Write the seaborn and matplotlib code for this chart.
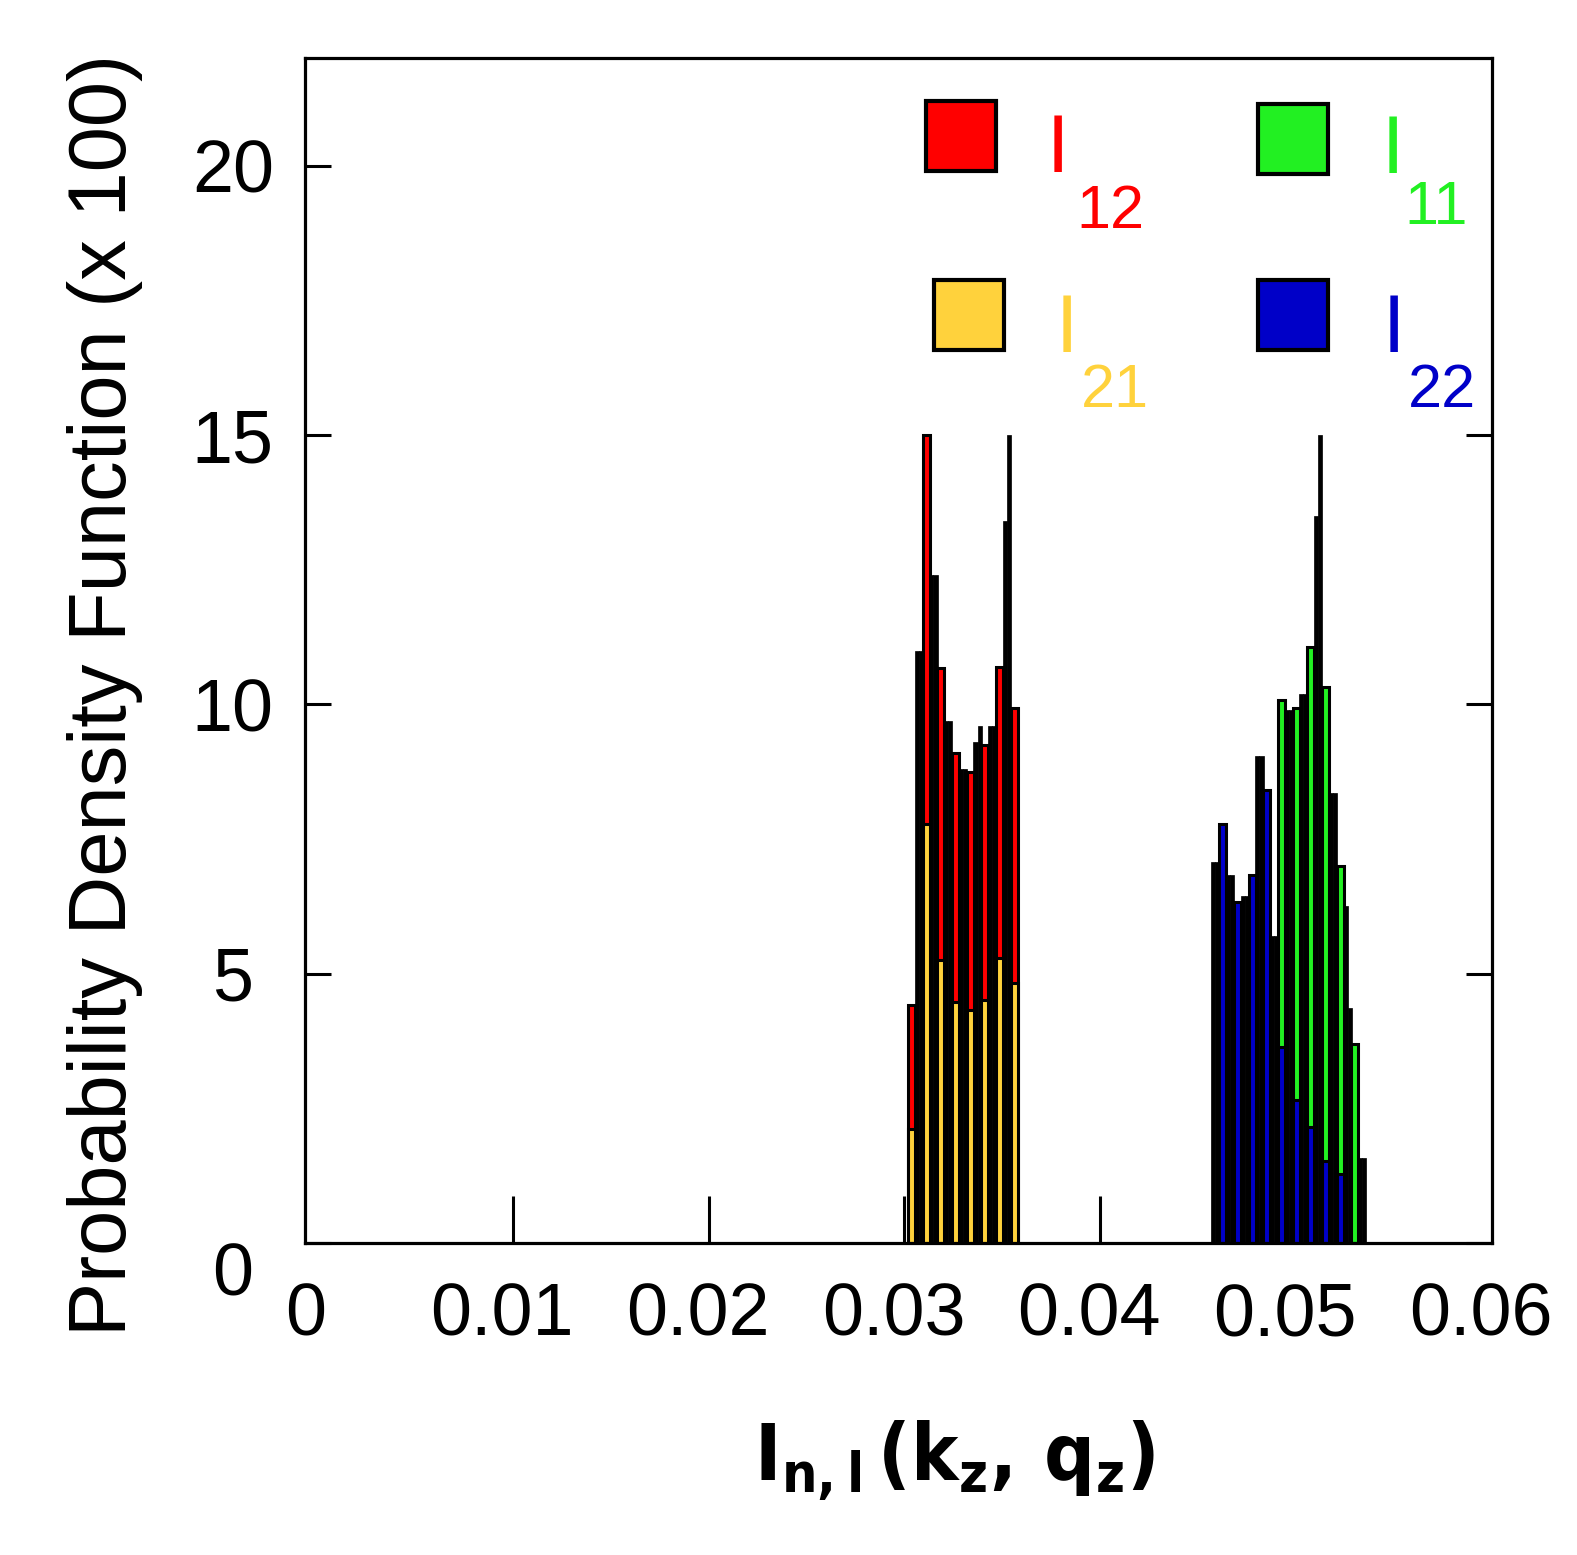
import matplotlib
matplotlib.use("Agg")
import matplotlib.pyplot as plt
from matplotlib import transforms
from matplotlib.patches import Rectangle
import pandas as pd
import seaborn as sns

# Bin centres of the two groups of bars.
left_x = [0.03036, 0.03111, 0.03186, 0.03261, 0.03336, 0.03411, 0.03486, 0.03561]
right_x = [0.04625, 0.04700, 0.04775, 0.04850, 0.04925,
           0.05000, 0.05075, 0.05150, 0.05225, 0.05300]

# Probability density (x 100) per bin.
i12 = [4.42, 15.0, 10.67, 9.10, 8.75, 9.25, 10.70, 9.93]
i21 = [2.12, 7.77, 5.26, 4.48, 4.33, 4.52, 5.30, 4.82]
i11 = [0, 0, 0, 0, 10.08, 9.93, 11.07, 10.33, 6.99, 3.69]
i22 = [7.77, 6.34, 6.84, 8.41, 3.64, 2.66, 2.16, 1.52, 1.28, 0]

# Black columns between the coloured bars (left / right half of each gap).
left_gap = [(0, 0), (11.0, 11.0), (12.4, 12.4), (9.7, 9.7), (8.8, 8.8),
            (9.3, 9.6), (9.6, 9.6), (13.4, 15.0), (0, 0)]
right_gap = [(7.08, 7.08), (6.84, 6.84), (6.45, 6.45), (9.05, 9.05), (5.7, 5.7),
             (9.9, 9.9), (10.2, 10.2), (13.5, 15.0), (8.36, 8.36),
             (6.25, 4.37), (1.57, 1.57)]

x_ticks = [0, 0.01, 0.02, 0.03, 0.04, 0.05, 0.06]
x_tick_labels = ["0", "0.01", "0.02", "0.03", "0.04", "0.05", "0.06"]
y_ticks = [0, 5, 10, 15, 20]

RED = "#ff0000"
YELLOW = "#ffd23c"
GREEN = "#22f022"
BLUE = "#0000c8"


def gap_frame(centres, gaps):
    """Positions of the black half-columns around a group of bars."""
    step = centres[1] - centres[0]
    xs, hs = [], []
    for j, (hl, hr) in enumerate(gaps):
        g = centres[0] - step / 2 + j * step
        xs += [g - 0.14 * step, g + 0.14 * step]
        hs += [hl, hr]
    return xs, hs


sns.set_theme(style="white")
plt.rcParams["font.family"] = ["Liberation Sans", "DejaVu Sans"]
plt.rcParams["text.color"] = "black"
plt.rcParams["xtick.color"] = "black"
plt.rcParams["ytick.color"] = "black"
plt.rcParams["mathtext.fontset"] = "custom"
for key in ("mathtext.rm", "mathtext.it", "mathtext.bf"):
    plt.rcParams[key] = "DejaVu Sans:bold:stretch=condensed"

fig = plt.figure(figsize=(15.77, 15.55), dpi=100)
ax = fig.add_axes([305 / 1577, 1 - 1243 / 1555, 1187 / 1577, 1185 / 1555])

# Black background columns.
lx, lh = gap_frame(left_x, left_gap)
rx, rh = gap_frame(right_x, right_gap)
black = pd.DataFrame({"x": lx + rx, "h": lh + rh})
sns.barplot(data=black, x="x", y="h", native_scale=True, width=1.0, color="black",
            saturation=1, errorbar=None, edgecolor="black", linewidth=0.5, ax=ax)

bar_kw = dict(native_scale=True, width=0.47, saturation=1, errorbar=None,
              edgecolor="black", linewidth=2.2, ax=ax)
sns.barplot(x=left_x, y=i12, color=RED, **bar_kw)
sns.barplot(x=left_x, y=i21, color=YELLOW, **bar_kw)
sns.barplot(x=right_x, y=i11, color=GREEN, **bar_kw)
sns.barplot(x=right_x, y=i22, color=BLUE, **bar_kw)

ax.set_xlim(-0.0006, 0.06)
ax.set_ylim(0, 22)
ax.set_xlabel("")
ax.set_ylabel("")

for side in ax.spines.values():
    side.set_linewidth(2.3)
    side.set_color("black")

ax.set_xticks(x_ticks)
ax.set_xticklabels(x_tick_labels)
ax.set_yticks(y_ticks)
ax.set_yticklabels([str(v) for v in y_ticks])
ax.tick_params(axis="x", direction="in", length=34, width=2.2, color="black",
               labelcolor="black", labelsize=53, pad=28, bottom=True, top=False)
ax.tick_params(axis="y", direction="in", length=19, width=2.2, color="black",
               labelcolor="black", labelsize=53, pad=52, left=True, right=True)

xt = ax.xaxis.get_major_ticks()
xt[0].tick1line.set_visible(False)
xt[-1].tick1line.set_visible(False)
ax.yaxis.get_major_ticks()[-1].tick2line.set_visible(False)

shift_x = transforms.ScaledTranslation(-11 / 100, 0, fig.dpi_scale_trans)
for lab in ax.get_xticklabels():
    lab.set_transform(lab.get_transform() + shift_x)
for lab in ax.get_yticklabels():
    lab.set_horizontalalignment("center")
shift_y = transforms.ScaledTranslation(0, -25 / 100, fig.dpi_scale_trans)
ax.get_yticklabels()[0].set_transform(ax.get_yticklabels()[0].get_transform() + shift_y)

# Hand-made legend: coloured squares and I with a subscript.
legend_items = [
    (RED, "12", 0.5527, 0.934, 0.634, 0.904, 0.6495, 0.8565),
    (GREEN, "11", 0.8324, 0.9316, 0.916, 0.903, 0.926, 0.860),
    (YELLOW, "21", 0.5594, 0.7831, 0.642, 0.752, 0.6537, 0.7055),
    (BLUE, "22", 0.8324, 0.7831, 0.917, 0.752, 0.9295, 0.7055),
]
side = 0.059
for col, sub, sx, sy, ix, iy, bx, by in legend_items:
    ax.add_patch(Rectangle((sx - side / 2, sy - side / 2), side, side,
                           transform=ax.transAxes, facecolor=col,
                           edgecolor="black", linewidth=3, zorder=5))
    ax.text(ix, iy, "I", transform=ax.transAxes, color=col, fontsize=58,
            ha="center", va="baseline", zorder=5)
    ax.text(bx, by, sub, transform=ax.transAxes, color=col, fontsize=44,
            ha="left", va="baseline", zorder=5)

fig.text(0.0666, 0.553, "Probability Density Function (x 100)", rotation=90,
         fontsize=58.5, ha="center", va="center", color="black")
fig.text(0.605, 0.06, r"$\mathrm{I_{n,l}\,(k_z,\,q_z)}$", fontsize=57,
         ha="center", va="center", color="black")

fig.savefig("out.png", dpi=100, facecolor="white")
